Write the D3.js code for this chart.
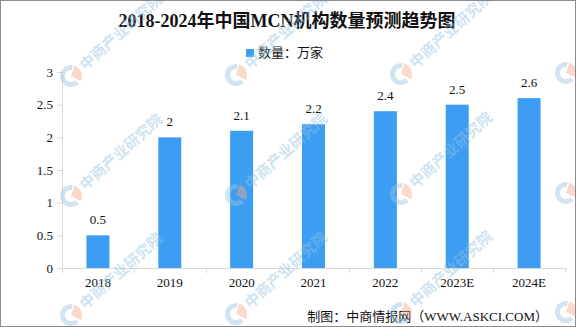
<!DOCTYPE html>
<html>
<head>
<meta charset="utf-8">
<script src="https://cdn.jsdelivr.net/npm/d3@7"></script>
<style>
  html, body { margin: 0; padding: 0; background: #fff; }
  svg { display: block; }
  text { font-family: "Liberation Serif", "Noto Sans CJK SC", serif; }
</style>
</head>
<body>
<svg id="chart" width="576" height="327"></svg>
<script>
// MCN institutions in China, 2018-2024 (unit: 10k)
const categories = ["2018", "2019", "2020", "2021", "2022", "2023E", "2024E"];
const values = [0.5, 2, 2.1, 2.2, 2.4, 2.5, 2.6];
const yTicks = [0, 0.5, 1, 1.5, 2, 2.5, 3];
const yTickLabels = ["0", "0.5", "1", "1.5", "2", "2.5", "3"];
const titleText = "2018-2024年中国MCN机构数量预测趋势图";
const legendText = "数量：万家";
const sourceText = "制图：中商情报网（WWW.ASKCI.COM）";
const watermarkText = "中商产业研究院";

const W = 576, H = 327;
const svg = d3.select("#chart");
const barColor = "#3d9df3";
const axisColor = "#d9d9d9";

const margin = { left: 62, right: 11, top: 72, bottom: 59 };
const x = d3.scaleBand().domain(categories).range([margin.left, W - margin.right]).paddingInner(0).paddingOuter(0);
const y = d3.scaleLinear().domain([0, 3]).range([H - margin.bottom, margin.top]);

svg.append("rect").attr("width", W).attr("height", H).attr("fill", "#fff");

// title
svg.append("text")
  .attr("x", 287).attr("y", 27)
  .attr("text-anchor", "middle")
  .attr("font-size", 18).attr("font-weight", "bold")
  .attr("fill", "#111")
  .text(titleText);

// legend
svg.append("rect").attr("x", 246).attr("y", 49).attr("width", 8).attr("height", 8).attr("fill", barColor);
svg.append("text")
  .attr("x", 258).attr("y", 57)
  .attr("font-size", 13).attr("fill", "#111")
  .text(legendText);

// y axis
const yAxis = d3.axisLeft(y).tickValues(yTicks).tickSize(5).tickPadding(4)
  .tickFormat((d, i) => yTickLabels[i]);
const gy = svg.append("g").attr("transform", `translate(${margin.left},0)`).call(yAxis);
gy.select(".domain").attr("stroke", axisColor);
gy.selectAll(".tick line").attr("stroke", axisColor);
gy.selectAll(".tick text").attr("font-size", 13).attr("fill", "#111")
  .attr("font-family", "'Liberation Serif', serif");

// x axis
const xAxis = d3.axisBottom(x).tickSize(0).tickPadding(10);
const gx = svg.append("g").attr("transform", `translate(0,${y(0)})`).call(xAxis);
gx.select(".domain").attr("stroke", axisColor).attr("d", `M${margin.left},0.5H${W - margin.right}`);
gx.selectAll(".tick text").attr("font-size", 13).attr("fill", "#111")
  .attr("font-family", "'Liberation Serif', serif");
// tick marks at category boundaries
const bounds = categories.map(c => x(c)).concat([x.range()[1]]);
gx.selectAll(".bound").data(bounds).enter().append("line")
  .attr("x1", d => Math.round(d) + 0.5).attr("x2", d => Math.round(d) + 0.5)
  .attr("y1", 0).attr("y2", 5)
  .attr("stroke", axisColor);

// bars
const barW = x.bandwidth() * 0.32;
svg.append("g").selectAll("rect").data(values).enter().append("rect")
  .attr("x", (d, i) => x(categories[i]) + (x.bandwidth() - barW) / 2)
  .attr("y", d => y(d))
  .attr("width", barW)
  .attr("height", d => y(0) - y(d))
  .attr("fill", barColor);

// value labels
svg.append("g").selectAll("text").data(values).enter().append("text")
  .attr("x", (d, i) => x(categories[i]) + x.bandwidth() / 2)
  .attr("y", d => y(d) - 11)
  .attr("text-anchor", "middle")
  .attr("font-size", 13).attr("fill", "#111")
  .text(d => String(d));

// source note
svg.append("text")
  .attr("x", 548).attr("y", 321)
  .attr("text-anchor", "end")
  .attr("font-size", 13).attr("fill", "#111")
  .text(sourceText);

// watermark layer
const wm = svg.append("g").attr("pointer-events", "none");
const cols = [-94, 71, 236, 401, 566];
const rows = [77, 197, 316];
const ringArc = d3.arc().innerRadius(6).outerRadius(11);
rows.forEach(ry => {
  cols.forEach((cx, ci) => {
    const g = wm.append("g").attr("transform", `translate(${cx},${ry - ci})`);
    g.append("path").attr("d", ringArc({ startAngle: Math.PI * 0.75, endAngle: Math.PI * 2.05 }))
      .attr("fill", "rgb(150,195,225)").attr("opacity", 0.45);
    g.append("path").attr("d", d3.arc().innerRadius(0).outerRadius(11)({ startAngle: Math.PI * 0.1, endAngle: Math.PI * 0.65 }))
      .attr("fill", "rgb(245,170,140)").attr("opacity", 0.45);
    g.append("text")
      .attr("transform", "rotate(-42)")
      .attr("x", 14).attr("y", 6)
      .attr("font-size", 15).attr("font-weight", "bold")
      .attr("font-family", "'Noto Sans CJK SC', sans-serif")
      .attr("fill", "rgb(150,195,225)").attr("opacity", 0.45)
      .text(watermarkText);
  });
});

// frame
svg.append("rect").attr("x", 0.5).attr("y", 0.5).attr("width", W - 1).attr("height", H - 1)
  .attr("fill", "none").attr("stroke", "#8c8c8c");
</script>
</body>
</html>
